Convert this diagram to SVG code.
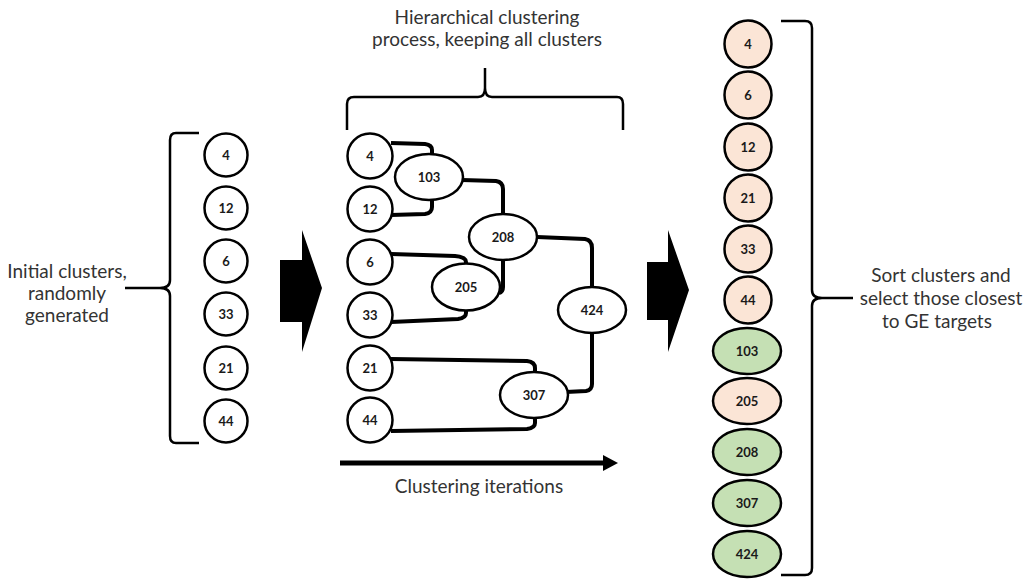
<svg xmlns="http://www.w3.org/2000/svg" width="1027" height="579" viewBox="0 0 1027 579">
<style>
.n{fill:#fff;stroke:#000;stroke-width:2.5}
.p{fill:#FBE5D6;stroke:#000;stroke-width:2.5}
.g{fill:#C5E0B4;stroke:#000;stroke-width:2.5}
.l{font-family:Lato,"Liberation Sans",sans-serif;font-size:13px;font-weight:bold;fill:#1a1a1a;text-anchor:middle;dominant-baseline:central}
.t{font-family:Lato,"Liberation Sans",sans-serif;font-size:19px;fill:#333;text-anchor:middle}
.e{fill:none;stroke:#000;stroke-width:4}
.b{fill:none;stroke:#000;stroke-width:2.5}
</style>

<!-- texts -->
<g id="txt-initial">
<text class="t" x="67" y="278">Initial clusters,</text>
<text class="t" x="67" y="300">randomly</text>
<text class="t" x="67" y="322">generated</text>
</g>
<g id="txt-hier">
<text class="t" x="487" y="24">Hierarchical clustering</text>
<text class="t" x="487" y="46">process, keeping all clusters</text>
</g>
<g id="txt-iter"><text class="t" x="479" y="493">Clustering iterations</text></g>
<g id="txt-sort">
<text class="t" x="941" y="282">Sort clusters and</text>
<text class="t" x="941" y="305">select those closest</text>
<text class="t" x="937" y="328">to GE targets</text>
</g>

<!-- brackets -->
<g id="brackets">
<path class="b" d="M199,133 L176,133 Q170,133 170,140 L170,280 Q170,288 160,288 Q170,288 170,296 L170,436 Q170,443 176,443 L199,443"/>
<path class="b" d="M125,288 L160,288"/>
<path class="b" d="M347,130 L347,104 Q347,97 354,97 L478,97 Q485,97 485,88 L485,68 L485,88 Q485,97 492,97 L617,97 Q623,97 623,104 L623,130"/>
<path class="b" d="M781,21 L805,21 Q812,21 812,28 L812,290 Q812,298 822,298 Q812,298 812,306 L812,568 Q812,575 805,575 L781,575"/>
<path class="b" d="M822,298 L853,298"/>
</g>

<!-- big arrows -->
<g id="bigarrow1"><path d="M280,260 L302,260 L302,230 L322,288 L302,352 L302,322 L280,322 z" fill="#000"/></g>
<g id="bigarrow2"><path d="M647,262 L668,262 L668,230 L689,290 L668,352 L668,320 L647,320 z" fill="#000"/></g>

<!-- connectors -->
<g id="connectors">
<path class="e" d="M391,143 L425,144 Q432,145 432,150 L432,155"/>
<path class="e" d="M391,215 L425,214 Q432,213 432,207 L432,199"/>
<path class="e" d="M462,180 L496,181 Q503,182 503,189 L503,214"/>
<path class="e" d="M391,254 L455,256 Q466,257 466,262 L466,265"/>
<path class="e" d="M391,322 L458,319 Q466,318 466,313 L466,310"/>
<path class="e" d="M503,259 L503,287 Q503,292 499,293"/>
<path class="e" d="M537,237 L585,239 Q592,240 592,248 L592,288"/>
<path class="e" d="M391,359 L527,361 Q535,362 535,368 L535,373"/>
<path class="e" d="M391,431 L527,429 Q535,428 535,423 L535,417"/>
<path class="e" d="M566,392 L586,391 Q592,390 592,384 L592,332"/>
<path d="M340,463 L605,463" fill="none" stroke="#000" stroke-width="5"/>
<path d="M603,455 L618,463 L603,471 z" fill="#000"/>
</g>

<!-- left column -->
<g id="l4"><circle class="n" cx="226" cy="155" r="21.5"/><text class="l" x="226" y="155">4</text></g>
<g id="l12"><circle class="n" cx="226" cy="208" r="21.5"/><text class="l" x="226" y="208">12</text></g>
<g id="l6"><circle class="n" cx="226" cy="261" r="21.5"/><text class="l" x="226" y="261">6</text></g>
<g id="l33"><circle class="n" cx="226" cy="314" r="21.5"/><text class="l" x="226" y="314">33</text></g>
<g id="l21"><circle class="n" cx="226" cy="368" r="21.5"/><text class="l" x="226" y="368">21</text></g>
<g id="l44"><circle class="n" cx="226" cy="421" r="21.5"/><text class="l" x="226" y="421">44</text></g>

<!-- middle dendrogram -->
<g id="m4"><circle class="n" cx="370" cy="156" r="22.5"/><text class="l" x="370" y="156">4</text></g>
<g id="m12"><circle class="n" cx="370" cy="209" r="22.5"/><text class="l" x="370" y="209">12</text></g>
<g id="m6"><circle class="n" cx="370" cy="262" r="22.5"/><text class="l" x="370" y="262">6</text></g>
<g id="m33"><circle class="n" cx="370" cy="315" r="22.5"/><text class="l" x="370" y="315">33</text></g>
<g id="m21"><circle class="n" cx="370" cy="368" r="22.5"/><text class="l" x="370" y="368">21</text></g>
<g id="m44"><circle class="n" cx="370" cy="420" r="22.5"/><text class="l" x="370" y="420">44</text></g>
<g id="m103"><ellipse class="n" cx="429" cy="177" rx="34" ry="23"/><text class="l" x="429" y="177">103</text></g>
<g id="m208"><ellipse class="n" cx="503" cy="237" rx="34" ry="23"/><text class="l" x="503" y="237">208</text></g>
<g id="m205"><ellipse class="n" cx="466" cy="287" rx="34" ry="23.5"/><text class="l" x="466" y="287">205</text></g>
<g id="m424"><ellipse class="n" cx="592" cy="310" rx="34" ry="23"/><text class="l" x="592" y="310">424</text></g>
<g id="m307"><ellipse class="n" cx="534" cy="395" rx="34" ry="23"/><text class="l" x="534" y="395">307</text></g>

<!-- right column -->
<g id="r4"><circle class="p" cx="748" cy="44" r="23.5"/><text class="l" x="748" y="44">4</text></g>
<g id="r6"><circle class="p" cx="748" cy="95" r="23.5"/><text class="l" x="748" y="95">6</text></g>
<g id="r12"><circle class="p" cx="748" cy="147" r="23.5"/><text class="l" x="748" y="147">12</text></g>
<g id="r21"><circle class="p" cx="748" cy="198" r="23.5"/><text class="l" x="748" y="198">21</text></g>
<g id="r33"><circle class="p" cx="748" cy="249" r="23.5"/><text class="l" x="748" y="249">33</text></g>
<g id="r44"><circle class="p" cx="748" cy="300" r="23.5"/><text class="l" x="748" y="300">44</text></g>
<g id="r103"><ellipse class="g" cx="747" cy="351" rx="34" ry="23"/><text class="l" x="747" y="351">103</text></g>
<g id="r205"><ellipse class="p" cx="747" cy="401" rx="34" ry="23"/><text class="l" x="747" y="401">205</text></g>
<g id="r208"><ellipse class="g" cx="747" cy="452" rx="34" ry="23"/><text class="l" x="747" y="452">208</text></g>
<g id="r307"><ellipse class="g" cx="747" cy="503" rx="34" ry="23"/><text class="l" x="747" y="503">307</text></g>
<g id="r424"><ellipse class="g" cx="747" cy="554" rx="34" ry="23"/><text class="l" x="747" y="554">424</text></g>
</svg>
